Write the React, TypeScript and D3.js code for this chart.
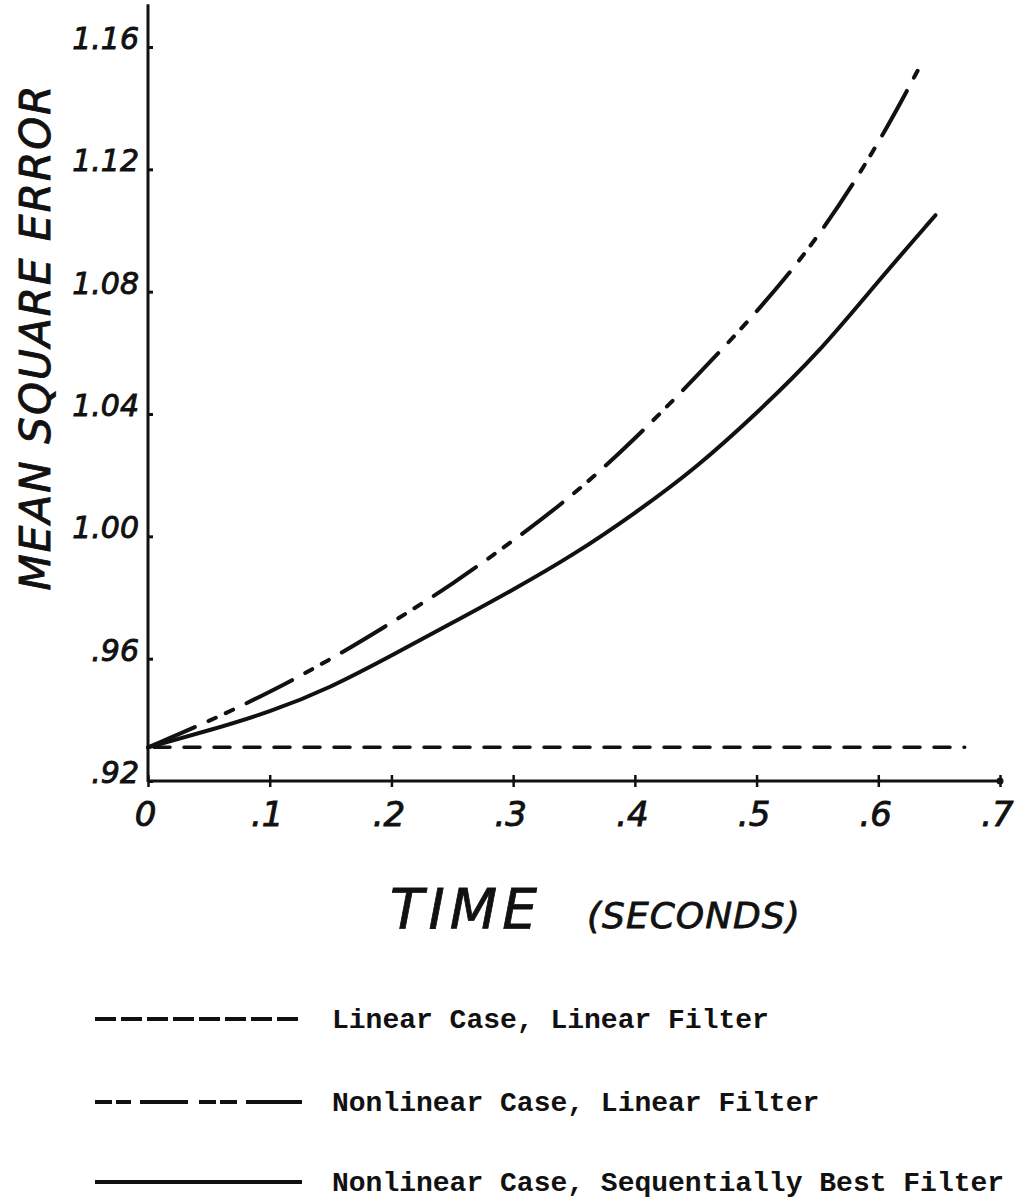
import React, { useRef, useEffect } from "react";
import * as d3 from "d3";

// tick values / labels
const xTicks = [0, 0.1, 0.2, 0.3, 0.4, 0.5, 0.6, 0.7];
const xTickLabels = ["0", ".1", ".2", ".3", ".4", ".5", ".6", ".7"];
const yTicks = [0.92, 0.96, 1.0, 1.04, 1.08, 1.12, 1.16];
const yTickLabels = [".92", ".96", "1.00", "1.04", "1.08", "1.12", "1.16"];

// [time (s), mean square error]
const linearCaseLinearFilter: [number, number][] = [
  [0, 0.931],
  [0.671, 0.931],
];
const nonlinearCaseLinearFilter: [number, number][] = [
  [0, 0.931],
  [0.05, 0.9395],
  [0.1, 0.949],
  [0.15, 0.9597],
  [0.2, 0.9717],
  [0.25, 0.9843],
  [0.3, 0.9985],
  [0.35, 1.0136],
  [0.4, 1.0317],
  [0.45, 1.052],
  [0.5, 1.0731],
  [0.55, 1.097],
  [0.6, 1.128],
  [0.636, 1.155],
];
const nonlinearCaseBestFilter: [number, number][] = [
  [0, 0.931],
  [0.05, 0.9365],
  [0.1, 0.9425],
  [0.15, 0.9505],
  [0.2, 0.961],
  [0.25, 0.9717],
  [0.3, 0.9825],
  [0.35, 0.994],
  [0.4, 1.0075],
  [0.45, 1.0222],
  [0.5, 1.0402],
  [0.55, 1.0595],
  [0.6, 1.0835],
  [0.647, 1.105],
];

const legendLabels = [
  "Linear Case, Linear Filter",
  "Nonlinear Case, Linear Filter",
  "Nonlinear Case, Sequentially Best Filter",
];

const W = 1023;
const H = 1201;
const INK = "#111";
const HAND = "'DejaVu Sans', sans-serif";
const TYPE = "'Liberation Mono', 'Courier New', monospace";

export default function App() {
  const ref = useRef<SVGSVGElement>(null);

  useEffect(() => {
    const svg = d3.select(ref.current);
    svg.selectAll("*").remove();

    const x = d3.scaleLinear().domain([0, 0.7]).range([148, 1000]);
    const y = d3.scaleLinear().domain([0.92, 1.16]).range([781, 47]);

    svg.append("rect").attr("width", W).attr("height", H).attr("fill", "#fff");

    // axis lines
    svg
      .append("line")
      .attr("x1", x(0))
      .attr("x2", x(0))
      .attr("y1", y(1.174))
      .attr("y2", y(0.92) + 1)
      .attr("stroke", INK)
      .attr("stroke-width", 3);
    svg
      .append("line")
      .attr("x1", x(0))
      .attr("x2", x(0.7))
      .attr("y1", y(0.92))
      .attr("y2", y(0.92))
      .attr("stroke", INK)
      .attr("stroke-width", 3);
    svg
      .append("circle")
      .attr("cx", x(0.7))
      .attr("cy", y(0.92))
      .attr("r", 3.5)
      .attr("fill", INK);

    const yAxis = d3
      .axisLeft(y)
      .tickValues(yTicks)
      .tickFormat((d, i) => yTickLabels[i])
      .tickSizeInner(-5)
      .tickSizeOuter(0)
      .tickPadding(9);
    const gy = svg.append("g").attr("transform", `translate(${x(0)},0)`).call(yAxis);
    gy.select(".domain").remove();
    gy.selectAll(".tick line").attr("stroke", INK).attr("stroke-width", 3);
    gy.selectAll(".tick text")
      .attr("fill", INK)
      .attr("stroke", INK)
      .attr("stroke-width", 0.9)
      .attr("font-family", HAND)
      .attr("font-style", "italic")
      .attr("font-size", 30)
      .attr("dy", "0.05em");

    const xAxis = d3
      .axisBottom(x)
      .tickValues(xTicks)
      .tickFormat((d, i) => xTickLabels[i])
      .tickSizeInner(6)
      .tickSizeOuter(0)
      .tickPadding(15);
    const gx = svg.append("g").attr("transform", `translate(0,${y(0.92)})`).call(xAxis);
    gx.select(".domain").remove();
    gx.selectAll(".tick line")
      .attr("y1", -6)
      .attr("stroke", INK)
      .attr("stroke-width", 2.5);
    gx.selectAll(".tick text")
      .attr("fill", INK)
      .attr("stroke", INK)
      .attr("stroke-width", 0.9)
      .attr("font-family", HAND)
      .attr("font-style", "italic")
      .attr("font-size", 34)
      .attr("x", -3)
      .attr("dy", "0.71em");

    // axis titles
    svg
      .append("text")
      .attr("transform", "translate(50,338) rotate(-90)")
      .attr("text-anchor", "middle")
      .attr("font-family", HAND)
      .attr("font-style", "italic")
      .attr("font-size", 42)
      .attr("textLength", 505)
      .attr("lengthAdjust", "spacing")
      .attr("fill", INK)
      .attr("stroke", INK)
      .attr("stroke-width", 0.9)
      .text("MEAN SQUARE ERROR");

    const title = svg
      .append("text")
      .attr("x", 390)
      .attr("y", 928)
      .attr("font-family", HAND)
      .attr("font-style", "italic")
      .attr("fill", INK)
      .attr("stroke", INK)
      .attr("stroke-width", 0.8);
    title.append("tspan").attr("font-size", 55).attr("letter-spacing", 5).text("TIME");
    title.append("tspan").attr("dx", 45).attr("font-size", 36).attr("letter-spacing", 1).text("(SECONDS)");

    // curves
    const line = d3
      .line<[number, number]>()
      .x((d) => x(d[0]))
      .y((d) => y(d[1]))
      .curve(d3.curveBasis);

    svg
      .append("path")
      .attr("d", line(linearCaseLinearFilter))
      .attr("fill", "none")
      .attr("stroke", INK)
      .attr("stroke-width", 3.5)
      .attr("stroke-linecap", "round")
      .attr("stroke-dasharray", "16 14")
      .attr("stroke-dashoffset", -6);

    svg
      .append("path")
      .attr("d", line(nonlinearCaseLinearFilter))
      .attr("fill", "none")
      .attr("stroke", INK)
      .attr("stroke-width", 4)
      .attr("stroke-linecap", "round")
      .attr("stroke-dasharray", "51 15 8 11 8 15");

    svg
      .append("path")
      .attr("d", line(nonlinearCaseBestFilter))
      .attr("fill", "none")
      .attr("stroke", INK)
      .attr("stroke-width", 4)
      .attr("stroke-linecap", "round");

    // legend
    const legendDash = ["21 5", "17 4 15 9 48 11 17 4 17 9 57 4 7", null];
    const legendY = [1019, 1102, 1182];
    const legend = svg.append("g");
    legendLabels.forEach((label, i) => {
      const ly = legendY[i];
      legend
        .append("line")
        .attr("x1", 95)
        .attr("x2", 302)
        .attr("y1", ly)
        .attr("y2", ly)
        .attr("stroke", INK)
        .attr("stroke-width", 4)
        .attr("stroke-dasharray", legendDash[i]);
      legend
        .append("text")
        .attr("x", 332)
        .attr("y", ly + 9)
        .attr("font-family", TYPE)
        .attr("font-weight", "bold")
        .attr("font-size", 28)
        .attr("fill", INK)
        .text(label);
    });
  }, []);

  return (
    <svg
      ref={ref}
      width={W}
      height={H}
      style={{ position: "absolute", left: 0, top: 0, display: "block" }}
    />
  );
}
